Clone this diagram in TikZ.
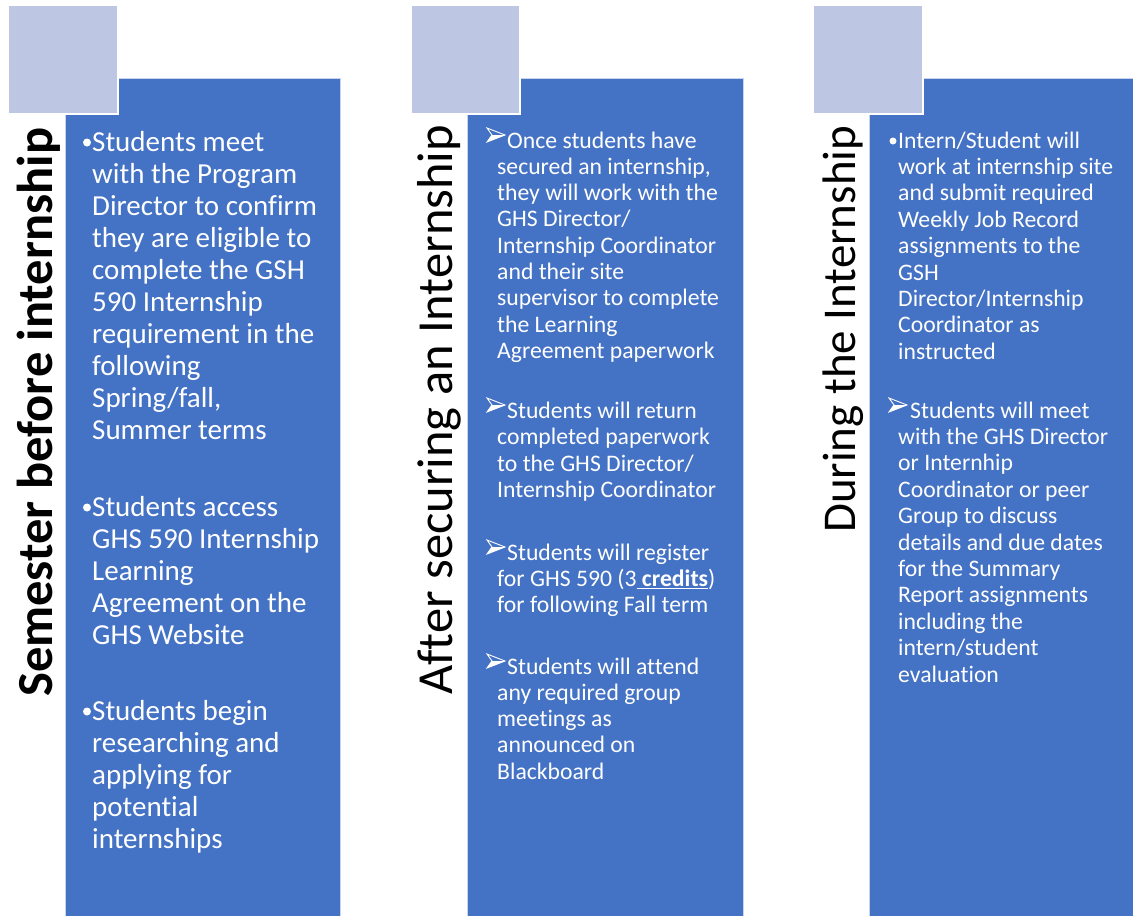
\documentclass[tikz,border=0pt]{standalone}
\usepackage{fontspec}
\setmainfont{Carlito}[Ligatures=NoCommon]
\definecolor{panelblue}{HTML}{4472C4}
\definecolor{squarecol}{HTML}{BDC7E4}
\definecolor{edgecol}{HTML}{C9D3EC}
\tikzset{
  panel/.style={fill=panelblue, draw=edgecol, line width=0.8pt},
  tile/.style={fill=squarecol, draw=white, line width=1.5pt},
  title/.style={inner sep=0pt, text=black, font=\fontsize{50.5}{60}\selectfont},
  titlesmall/.style={title, font=\fontsize{47}{56}\selectfont},
  bodyA/.style={inner sep=0pt, text=white, font=\fontsize{29}{32}\selectfont},
  bodyB/.style={inner sep=0pt, text=white, font=\fontsize{23.7}{26}\selectfont},
  dotbullet/.style={fill=white},
  arrowbullet/.pic={
    \draw[white, line width=0.9pt, line join=miter] (1,-20) -- (19,-13) -- (1,-6) -- (6,-13) -- cycle;
    \fill[white] (6,-13) -- (19,-13) -- (1,-6) -- cycle;
  }
}
% #1 style, #2 name, #3 x first line, #4 x other lines, #5 first baseline, #6 step, #7 lines
\newcommand\bodypara[7]{%
  \foreach \t [count=\i] in {#7} {
    \pgfmathsetmacro\xx{\i==1 ? #3 : #4}
    \node[#1, anchor=base west] (#2-\i) at (\xx, {#5+(\i-1)*#6}) {\t};
  }%
}
\begin{document}
\begin{tikzpicture}[x=1pt, y=-1pt]
\useasboundingbox (0,0) rectangle (1133,916);
% panels
\path[panel] (65,78) rectangle (340,917);
\path[panel] (467,78) rectangle (743,917);
\path[panel] (869,78) rectangle (1145,917);
% tiles
\path[tile] (8,5) rectangle (118,114);
\path[tile] (411,5) rectangle (520,114);
\path[tile] (813,5) rectangle (923,114);
% titles
\node[title, rotate=90, anchor=base west] (t1) at (52,697) {\bfseries Semester before internship};
\node[title, rotate=90, anchor=base west] (t2) at (452,695) {After securing an Internship};
\node[titlesmall, rotate=90, anchor=base west] (t3) at (855,533) {During the Internship};
% column 1
\path[dotbullet] (87,142.5) circle (4);
\bodypara{bodyA}{c1a}{92}{92}{151}{32}{Students meet, with the Program, Director to confirm, they are eligible to, complete the GSH, 590 Internship, requirement in the, following, {Spring/fall,}, Summer terms}
\path[dotbullet] (87,507.5) circle (4);
\bodypara{bodyA}{c1b}{92}{92}{516}{32}{Students access, GHS 590 Internship, Learning, Agreement on the, GHS Website}
\path[dotbullet] (87,711.5) circle (4);
\bodypara{bodyA}{c1c}{92}{92}{720}{32}{Students begin, researching and, applying for, potential, internships}
% column 2
\pic at (486,148) {arrowbullet};
\bodypara{bodyB}{c2a}{507}{497}{148}{26.3}{Once students have, {secured an internship,}, they will work with the, GHS Director/, Internship Coordinator, and their site, supervisor to complete, the Learning, Agreement paperwork}
\pic at (486,418) {arrowbullet};
\bodypara{bodyB}{c2b}{507}{497}{418}{26.5}{Students will return, completed paperwork, to the GHS Director/, Internship Coordinator}
\pic at (486,560) {arrowbullet};
\bodypara{bodyB}{c2c}{507}{497}{560}{26.2}{Students will register, {for GHS 590 (3\underline{\textbf{\ credits}})}, for following Fall term}
\pic at (486,674) {arrowbullet};
\bodypara{bodyB}{c2d}{507}{497}{674}{26.3}{Students will attend, any required group, meetings as, announced on, Blackboard}
% column 3
\path[dotbullet] (893,141) circle (3.5);
\bodypara{bodyB}{c3a}{898}{898}{148}{26.4}{Intern/Student will, work at internship site, and submit required, Weekly Job Record, assignments to the, GSH, Director/Internship, Coordinator as, instructed}
\pic at (888,418) {arrowbullet};
\bodypara{bodyB}{c3b}{910}{898}{418}{26.4}{Students will meet, with the GHS Director, or Internhip, Coordinator or peer, Group to discuss, details and due dates, for the Summary, Report assignments, including the, intern/student, evaluation}
\end{tikzpicture}
\end{document}
